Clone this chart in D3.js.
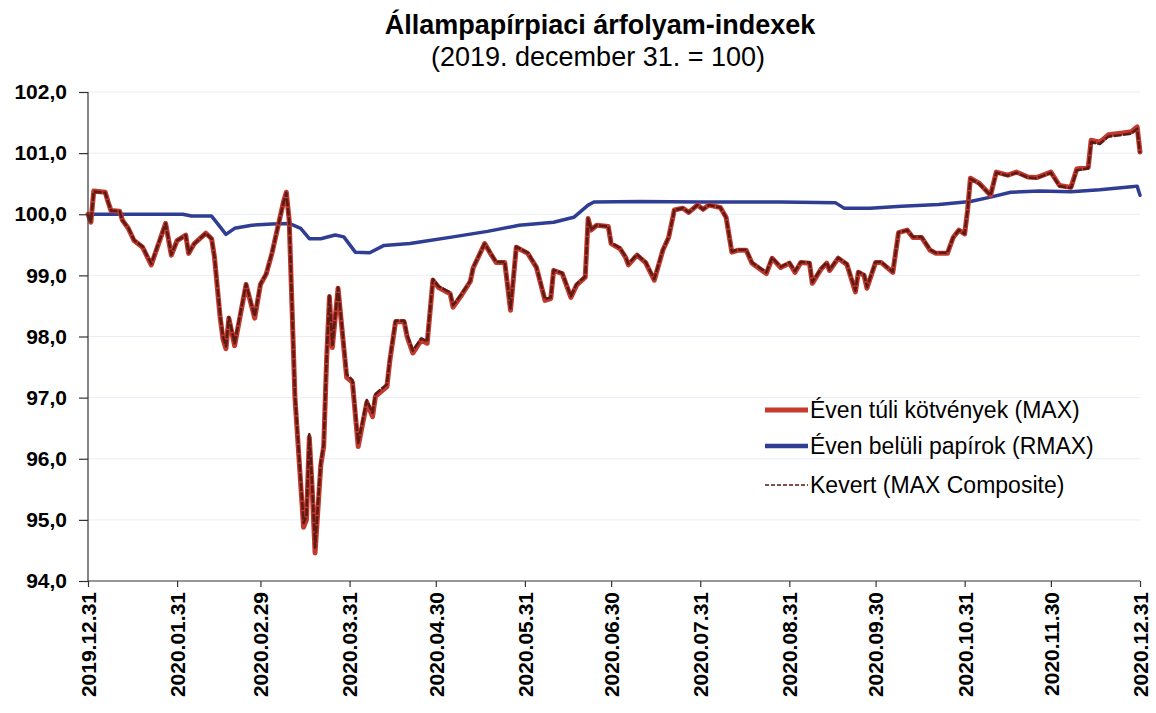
<!DOCTYPE html>
<head>
<meta charset="utf-8">
<title>Állampapírpiaci árfolyam-indexek</title>
<style>
body { margin: 0; background: #fff; }
text { font-family: "Liberation Sans", Arial, sans-serif; fill: #000; }
.tick text { font-size: 21px; font-weight: bold; }
.grid line { stroke: #e9edf6; stroke-width: 1px; }
path.line { fill: none; stroke-linejoin: round; stroke-linecap: round; }
</style>
</head>
<body>
<script src="https://cdn.jsdelivr.net/npm/d3@7"></script>
<script>

// day offsets from 2019.12.31 and index values
var maxDays = [0,1,2,6,7,8,11,12,14,16,19,22,27,29,31,34,35,37,41,43,44,46,47,48,49,51,54,55,58,60,62,64,68,69,70,72,75,76,77,78,79,81,82,83,84,85,87,88,90,92,94,97,99,100,104,105,107,110,111,113,116,118,120,122,126,127,130,133,134,138,140,142,145,147,149,153,156,159,161,162,165,168,170,173,174,175,177,181,182,185,187,188,190,191,194,197,200,202,204,207,209,212,214,216,220,222,224,226,229,231,236,238,241,244,246,248,251,252,255,257,258,261,264,267,268,270,271,274,276,280,282,285,287,290,293,295,299,301,303,305,306,307,310,314,316,320,323,327,330,335,338,342,344,348,349,352,355,360,363,365,366];
var maxVals = [100.0,99.87,100.38,100.36,100.2,100.06,100.05,99.9,99.77,99.57,99.46,99.17,99.85,99.33,99.57,99.66,99.36,99.52,99.69,99.6,99.3,98.3,97.95,97.8,98.3,97.85,98.6,98.85,98.3,98.85,99.02,99.36,100.2,100.36,99.9,97.0,94.88,95.0,96.35,95.5,94.46,95.9,96.2,97.6,98.65,97.82,98.79,98.3,97.33,97.25,96.2,96.92,96.69,97.02,97.18,97.6,98.24,98.24,98.0,97.73,97.94,97.89,98.92,98.8,98.7,98.48,98.68,98.9,99.12,99.52,99.36,99.21,99.21,98.43,99.46,99.36,99.13,98.59,98.62,99.08,99.03,98.64,98.84,98.97,99.93,99.74,99.82,99.8,99.52,99.44,99.3,99.17,99.28,99.33,99.21,98.92,99.41,99.62,100.07,100.1,100.03,100.15,100.08,100.15,100.11,99.95,99.38,99.41,99.41,99.2,99.03,99.28,99.13,99.2,99.05,99.21,99.2,98.87,99.1,99.2,99.08,99.28,99.18,98.73,99.05,99.0,98.79,99.21,99.21,99.05,99.7,99.74,99.62,99.62,99.41,99.36,99.36,99.62,99.74,99.68,100.06,100.59,100.51,100.31,100.69,100.64,100.69,100.61,100.6,100.69,100.47,100.44,100.74,100.77,101.21,101.18,101.3,101.33,101.35,101.43,101.02];
var compVals = [100.0,99.88,100.37,100.35,100.2,100.06,100.05,99.9,99.78,99.58,99.47,99.19,99.85,99.34,99.57,99.66,99.37,99.52,99.69,99.6,99.31,98.34,97.99,97.84,98.32,97.89,98.62,98.86,98.33,98.86,99.03,99.37,100.19,100.35,99.89,97.05,94.95,95.06,96.4,95.56,94.55,95.95,96.24,97.63,98.67,97.86,98.8,98.33,97.38,97.29,96.26,96.96,96.75,97.06,97.22,97.63,98.26,98.26,98.03,97.77,97.97,97.92,98.94,98.82,98.72,98.51,98.7,98.91,99.13,99.52,99.37,99.22,99.22,98.46,99.47,99.37,99.14,98.61,98.64,99.09,99.04,98.66,98.86,98.98,99.93,99.75,99.82,99.8,99.53,99.45,99.31,99.19,99.29,99.34,99.22,98.94,99.42,99.62,100.07,100.1,100.03,100.15,100.08,100.15,100.11,99.95,99.39,99.42,99.42,99.21,99.05,99.29,99.14,99.21,99.07,99.22,99.21,98.89,99.11,99.21,99.09,99.29,99.19,98.75,99.06,99.02,98.81,99.22,99.22,99.06,99.7,99.74,99.63,99.63,99.42,99.37,99.37,99.62,99.74,99.68,100.06,100.58,100.5,100.31,100.68,100.63,100.68,100.6,100.59,100.68,100.46,100.43,100.72,100.75,101.18,101.15,101.27,101.3,101.32,101.4,101.0];

var rmaxDays = [0,33,36,43,45,48,51,57,64,70,74,77,81,86,89,93,98,103,112,116,127,139,150,162,169,174,176,192,213,241,260,263,272,283,296,307,314,321,331,342,352,363,365,366];
var rmaxVals = [100.0,100.0,99.97,99.97,99.85,99.67,99.77,99.82,99.84,99.85,99.77,99.6,99.6,99.66,99.63,99.38,99.37,99.49,99.52,99.55,99.63,99.72,99.82,99.87,99.95,100.15,100.2,100.21,100.2,100.2,100.19,100.1,100.1,100.13,100.16,100.21,100.28,100.36,100.38,100.37,100.4,100.45,100.46,100.31];

var xTickLabels = ["2019.12.31","2020.01.31","2020.02.29","2020.03.31","2020.04.30","2020.05.31","2020.06.30","2020.07.31","2020.08.31","2020.09.30","2020.10.31","2020.11.30","2020.12.31"];
var yTicks = [94,95,96,97,98,99,100,101,102];

var seriesNames = ["Éven túli kötvények (MAX)", "Éven belüli papírok (RMAX)", "Kevert (MAX Composite)"];

var width = 1156, height = 713;
var plotLeft = 88, plotRight = 1140, plotTop = 92, plotBottom = 581;

var parse = d3.timeParse("%Y.%m.%d");
var start = parse("2019.12.31");

var x = d3.scaleTime()
    .domain([start, parse("2020.12.31")])
    .range([plotLeft, plotRight]);

var y = d3.scaleLinear()
    .domain([94, 102])
    .range([plotBottom, plotTop]);

var svg = d3.select("body").append("svg")
    .attr("width", width)
    .attr("height", height);

// title
svg.append("text")
    .attr("x", 600).attr("y", 34)
    .attr("text-anchor", "middle")
    .style("font-size", "27px")
    .style("font-weight", "bold")
    .text("Állampapírpiaci árfolyam-indexek");

svg.append("text")
    .attr("x", 598).attr("y", 66)
    .attr("text-anchor", "middle")
    .style("font-size", "27px")
    .text("(2019. december 31. = 100)");

// faint gridlines
svg.append("g")
    .attr("class", "grid")
    .selectAll("line")
    .data(yTicks.slice(1))
    .enter().append("line")
    .attr("x1", plotLeft).attr("x2", plotRight)
    .attr("y1", d => y(d)).attr("y2", d => y(d));

function toPoints(days, vals) {
  return days.map(function(d, i) {
    return {date: d3.timeDay.offset(start, d), value: vals[i]};
  });
}

var line = d3.line()
    .x(d => x(d.date))
    .y(d => y(d.value));

svg.append("path")
    .datum(toPoints(rmaxDays, rmaxVals))
    .attr("class", "line")
    .attr("d", line)
    .style("stroke", "#2f3d92")
    .style("stroke-width", 3.5);

svg.append("path")
    .datum(toPoints(maxDays, maxVals))
    .attr("class", "line")
    .attr("d", line)
    .style("stroke", "#c23a2e")
    .style("stroke-width", 5);

svg.append("path")
    .datum(toPoints(maxDays, compVals))
    .attr("class", "line")
    .attr("d", line)
    .style("stroke", "#5e1a14")
    .style("stroke-width", 2.6)
    .style("stroke-linecap", "butt")
    .style("stroke-dasharray", "8,1.5");

// axes
var yAxis = d3.axisLeft(y)
    .tickValues(yTicks)
    .tickSize(9)
    .tickPadding(12)
    .tickFormat(d => d3.format(".1f")(d).replace(".", ","));

svg.append("g")
    .attr("transform", "translate(" + plotLeft + ",0)")
    .call(yAxis)
    .call(g => g.select(".domain").attr("d", "M0," + plotTop + "V" + plotBottom));

var xAxis = d3.axisBottom(x)
    .tickValues(xTickLabels.map(parse))
    .tickSize(6)
    .tickFormat(d3.timeFormat("%Y.%m.%d"));

var gx = svg.append("g")
    .attr("transform", "translate(0," + plotBottom + ")")
    .call(xAxis)
    .call(g => g.select(".domain").attr("d", "M" + plotLeft + ",0H" + plotRight));

gx.selectAll(".tick text")
    .attr("transform", "rotate(-90)")
    .attr("text-anchor", "end")
    .attr("x", -11)
    .attr("y", 0)
    .attr("dy", "0.35em");

svg.selectAll(".domain, .tick line").style("stroke", "#333").style("stroke-width", 1.2);

// legend
var legend = svg.append("g").attr("transform", "translate(765,410)");
var legendStyles = [
  {color: "#c8392e", width: 5, dash: null},
  {color: "#2f3d92", width: 4.5, dash: null},
  {color: "#5a1512", width: 1.3, dash: "4,2"}
];
var rows = [0, 36, 75];

seriesNames.forEach(function(name, i) {
  var g = legend.append("g").attr("transform", "translate(0," + rows[i] + ")");
  g.append("line")
      .attr("x1", 0).attr("x2", 43)
      .attr("y1", 0).attr("y2", 0)
      .style("stroke", legendStyles[i].color)
      .style("stroke-width", legendStyles[i].width)
      .style("stroke-dasharray", legendStyles[i].dash);
  g.append("text")
      .attr("x", 45).attr("y", 0)
      .attr("dy", "0.35em")
      .style("font-size", "23px")
      .text(name);
});

</script>
</body>
</html>
